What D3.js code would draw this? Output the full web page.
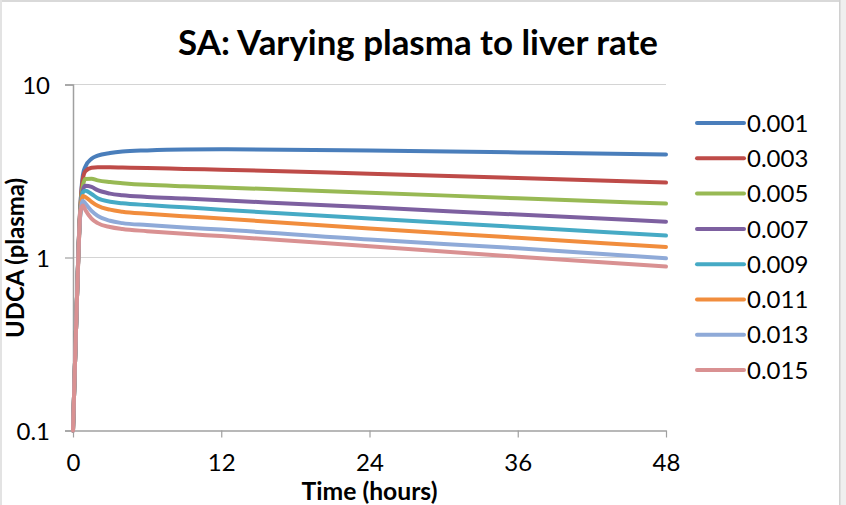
<!DOCTYPE html>
<html><head><meta charset="utf-8">
<script src="https://cdn.jsdelivr.net/npm/d3@7"></script>
<style>html,body{margin:0;padding:0;background:#fff;}svg{display:block;}</style>
</head><body>
<script>
const times = [0, 0.15, 0.3, 0.45, 0.6, 0.8, 1, 1.5, 2, 3, 4, 6, 9, 12, 24, 36, 48];
const rates = ["0.001","0.003","0.005","0.007","0.009","0.011","0.013","0.015"];
const s0001 = [0.1,0.23,0.52,1.15,2.0,3.0,3.35,3.72,3.88,4.02,4.1,4.16,4.21,4.22,4.15,4.05,3.94];
const s0003 = [0.1,0.23,0.52,1.15,2.0,2.85,3.15,3.3,3.32,3.32,3.31,3.29,3.25,3.22,3.05,2.88,2.71];
const s0005 = [0.1,0.23,0.52,1.15,1.95,2.6,2.84,2.85,2.79,2.73,2.69,2.63,2.58,2.54,2.37,2.2,2.05];
const s0007 = [0.1,0.23,0.52,1.15,1.9,2.45,2.6,2.56,2.45,2.34,2.29,2.24,2.19,2.14,1.95,1.77,1.61];
const s0009 = [0.1,0.23,0.52,1.12,1.85,2.38,2.43,2.33,2.2,2.1,2.06,2.01,1.95,1.89,1.68,1.5,1.34];
const s0011 = [0.1,0.23,0.52,1.1,1.85,2.27,2.24,2.1,1.99,1.89,1.84,1.79,1.73,1.68,1.47,1.3,1.15];
const s0013 = [0.1,0.23,0.52,1.1,1.8,2.13,2.05,1.86,1.74,1.63,1.58,1.54,1.49,1.45,1.27,1.13,0.99];
const s0015 = [0.1,0.23,0.52,1.1,1.85,2.0,1.88,1.68,1.58,1.5,1.46,1.42,1.37,1.33,1.16,1.01,0.887];
const seriesValues = [s0001,s0003,s0005,s0007,s0009,s0011,s0013,s0015];
const colors = ["#4A7EBB","#BE4B48","#98B954","#7D60A0","#46AAC5","#F18D3D","#8FAAD8","#D99192"];
const xTicks = [0,12,24,36,48];
const yTicks = [0.1,1,10];
const yTickLabels = ["0.1","1","10"];
const title = "SA: Varying plasma to liver rate";
const xTitle = "Time (hours)";
const yTitle = "UDCA (plasma)";

const W = 846, H = 505;
const svg = d3.select("body").append("svg").attr("width", W).attr("height", H);
svg.append("rect").attr("width", W).attr("height", H).attr("fill", "#fff");
// frame
svg.append("rect").attr("x",0).attr("y",0).attr("width",W).attr("height",2).attr("fill","#d9d9d9");
svg.append("rect").attr("x",0).attr("y",0).attr("width",2).attr("height",H).attr("fill","#e3e3e3");
svg.append("rect").attr("x",839).attr("y",0).attr("width",W-839).attr("height",H).attr("fill","#efefef");
svg.append("rect").attr("x",839).attr("y",0).attr("width",1.5).attr("height",H).attr("fill","#d0d0d0");

const x = d3.scaleLinear().domain([0,48]).range([73,666]);
const y = d3.scaleLog().domain([0.1,10]).range([430.5,84.5]);
const font = "Lato, 'Open Sans', sans-serif";

// gridlines
svg.append("g").selectAll("line").data(yTicks.slice(1)).join("line")
  .attr("x1", 73).attr("x2", 666).attr("y1", d=>y(d)).attr("y2", d=>y(d))
  .attr("stroke", "#d4d4d4").attr("stroke-width", 1.2);

// y axis
const yAxis = d3.axisLeft(y).tickValues(yTicks).tickSize(8).tickFormat((d,i)=>yTickLabels[i]);
const gy = svg.append("g").attr("transform","translate(73,0)").call(yAxis);
gy.select(".domain").attr("stroke","#a0a0a0").attr("stroke-width",1.5);
gy.selectAll(".tick line").attr("stroke","#a0a0a0").attr("stroke-width",1.2);
gy.selectAll(".tick text").attr("font-family",font).attr("font-size",24).attr("fill","#000")
  .attr("x",-23).attr("dy","0.36em");

// x axis
const xAxis = d3.axisBottom(x).tickValues(xTicks).tickSize(7).tickSizeOuter(0).tickFormat(d3.format("d"));
const gx = svg.append("g").attr("transform","translate(0,430.5)").call(xAxis);
gx.select(".domain").attr("stroke","#a0a0a0").attr("stroke-width",1.5);
gx.selectAll(".tick line").attr("stroke","#a0a0a0").attr("stroke-width",1.2);
gx.selectAll(".tick text").attr("font-family",font).attr("font-size",24).attr("fill","#000")
  .attr("y",32).attr("dy","0.36em");

// lines
const line = d3.line().x((d,i)=>x(times[i])).y(d=>y(d)).curve(d3.curveMonotoneX);
svg.append("g").selectAll("path").data(seriesValues).join("path")
  .attr("d", d=>line(d)).attr("fill","none")
  .attr("stroke",(d,i)=>colors[i]).attr("stroke-width",4)
  .attr("stroke-linejoin","round").attr("stroke-linecap","round");

// legend
const lg = svg.append("g");
const rowY = i => 123 + i*35.3;
lg.selectAll("line").data(rates).join("line")
  .attr("x1",697).attr("x2",744).attr("y1",(d,i)=>rowY(i)).attr("y2",(d,i)=>rowY(i))
  .attr("stroke",(d,i)=>colors[i]).attr("stroke-width",4).attr("stroke-linecap","round");
lg.selectAll("text").data(rates).join("text")
  .attr("x",747).attr("y",(d,i)=>rowY(i)).attr("dy","0.36em")
  .attr("font-family",font).attr("font-size",24).text(d=>d);

function fit(sel, w){ const n = sel.node(); const l = n.getComputedTextLength(); const fs = parseFloat(sel.attr("font-size")); sel.attr("font-size", fs*w/l); }

const t = svg.append("text").attr("x",418).attr("y",42).attr("text-anchor","middle")
  .attr("dy","0.36em").attr("font-family",font).attr("font-weight","bold").attr("font-size",30).text(title);
fit(t, 480);
const xt = svg.append("text").attr("x",369.5).attr("y",491).attr("text-anchor","middle")
  .attr("dy","0.36em").attr("font-family",font).attr("font-weight","bold").attr("font-size",20).text(xTitle);
fit(xt, 136);
const yt = svg.append("text").attr("transform","translate(15,258) rotate(-90)").attr("text-anchor","middle")
  .attr("dy","0.36em").attr("font-family",font).attr("font-weight","bold").attr("font-size",20).text(yTitle);
fit(yt, 160);
</script>
</body></html>
